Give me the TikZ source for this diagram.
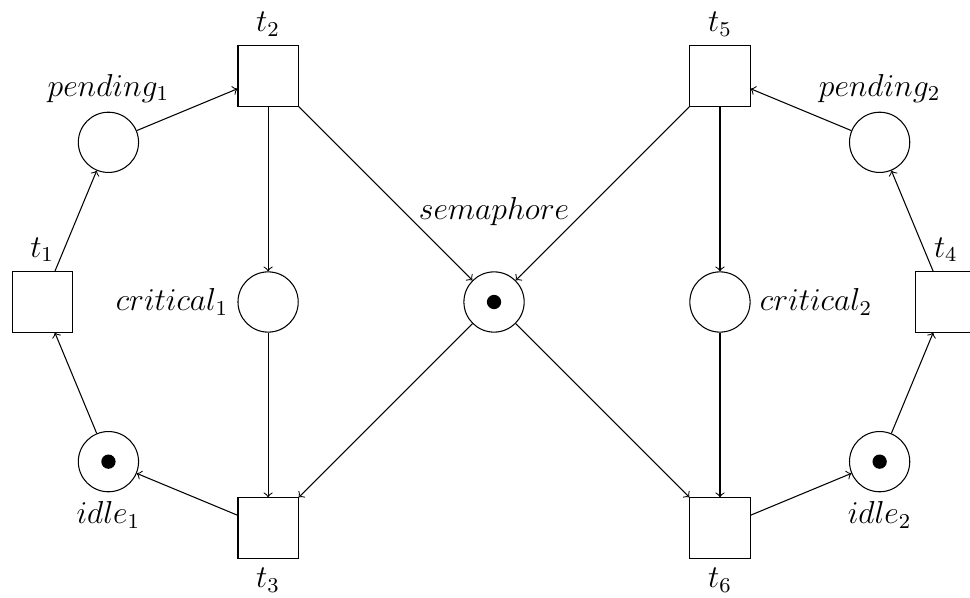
\documentclass[tikz,border=0pt]{standalone}
\usetikzlibrary{positioning}
\tikzset{
  plc/.style  ={draw, circle, minimum size=8mm, inner sep=0pt},
  trans/.style={draw, rectangle, minimum size=8mm, inner sep=0pt},
  tok/.style  ={fill=black, circle, minimum size=1.9mm, inner sep=0pt},
  arc/.style  ={->},
  every label/.style={font=\large},
}
\begin{document}
\begin{tikzpicture}
  \useasboundingbox (-6.56,-3.93) rectangle (6.32,4.01);
  % ---- shared place
  \node[plc, label={[label distance=4.8mm]above:$semaphore$}] (sem) at (0,0) {};
  \node[tok] (semtok) at (sem) {};
  % ---- left process
  \node[trans, label=above:$t_1$]      (t1)    at (-6,0)        {};
  \node[plc,   label=above:$pending_1$] (pend1) at (-5.12,2.12) {};
  \node[trans, label=above:$t_2$]      (t2)    at (-3,3)        {};
  \node[plc,   label=left:$critical_1$] (crit1) at (-3,0)       {};
  \node[trans, label=below:$t_3$]      (t3)    at (-3,-3)       {};
  \node[plc,   label=below:$idle_1$]   (idle1) at (-5.12,-2.12) {};
  \node[tok] (idletok1) at (idle1) {};
  \draw[arc] (t1)    -- (pend1);
  \draw[arc] (pend1) -- (t2);
  \draw[arc] (t2)    -- (crit1);
  \draw[arc] (t2)    -- (sem);
  \draw[arc] (crit1) -- (t3);
  \draw[arc] (sem)   -- (t3);
  \draw[arc] (t3)    -- (idle1);
  \draw[arc] (idle1) -- (t1);
  % ---- right process
  \node[trans, label=above:$t_4$]       (t4)    at (6,0)        {};
  \node[plc,   label=above:$pending_2$] (pend2) at (5.12,2.12)  {};
  \node[trans, label=above:$t_5$]       (t5)    at (3,3)        {};
  \node[plc,   label=right:$critical_2$] (crit2) at (3,0)       {};
  \node[trans, label=below:$t_6$]       (t6)    at (3,-3)       {};
  \node[plc,   label=below:$idle_2$]    (idle2) at (5.12,-2.12) {};
  \node[tok] (idletok2) at (idle2) {};
  \draw[arc] (t4)    -- (pend2);
  \draw[arc] (pend2) -- (t5);
  \draw[arc] (t5)    -- (crit2);
  \draw[arc] (t5)    -- (sem);
  \draw[arc] (crit2) -- (t6);
  \draw[arc] (sem)   -- (t6);
  \draw[arc] (t6)    -- (idle2);
  \draw[arc] (idle2) -- (t4);
\end{tikzpicture}
\end{document}
